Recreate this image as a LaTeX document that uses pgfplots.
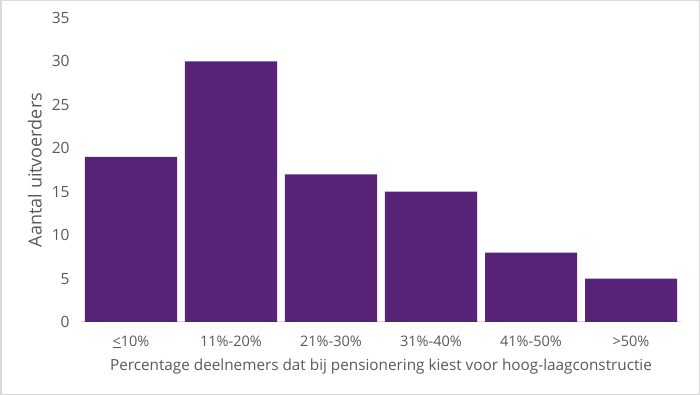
\documentclass[border=0pt]{standalone}
\usepackage{pgfplots}
\pgfplotsset{compat=1.18}
\usepackage{fontspec}
\setmainfont{Open Sans}
\definecolor{barc}{RGB}{86,35,120}
\definecolor{txt}{RGB}{89,89,89}
\definecolor{frame}{RGB}{217,217,217}
\begin{document}
\begin{tikzpicture}
\path[use as bounding box] (0,0) rectangle (700bp,395bp);
\draw[frame, line width=1.5bp] (0.75bp,0.75bp) rectangle (699.25bp,394.25bp);
\begin{axis}[
  at={(81bp,73bp)}, anchor=south west,
  width=600bp, height=304bp, scale only axis,
  xmin=-0.5, xmax=5.5, ymin=0, ymax=35,
  ytick={0,5,...,35},
  xtick={0,1,2,3,4,5},
  xticklabels={\underline{<}10\%,11\%-20\%,21\%-30\%,31\%-40\%,41\%-50\%,>50\%},
  axis lines*=left,
  y axis line style={draw=none},
  x axis line style={draw=frame, line width=1bp},
  major tick length=0pt,
  /pgf/number format/assume math mode=true,
  yticklabel style={font=\fontsize{15.5bp}{17bp}\selectfont, text=txt, xshift=-8bp},
  xticklabel style={font=\fontsize{14.5bp}{16bp}\selectfont, text=txt, yshift=-10bp},
  ylabel={Aantal uitvoerders},
  ylabel style={font=\fontsize{18bp}{20bp}\selectfont, text=txt, at={(axis description cs:-0.077,0.5)}, anchor=center, rotate=0},
  xlabel={Percentage deelnemers dat bij pensionering kiest voor hoog-laagconstructie},
  xlabel style={font=\fontsize{15.3bp}{17bp}\selectfont, text=txt, at={(axis description cs:0.5,-0.145)}, anchor=center},
  ybar, bar width=92bp,
  clip=false,
]
\addplot[fill=barc, draw=none] coordinates {(0,19) (1,30) (2,17) (3,15) (4,8) (5,5)};
\end{axis}
\end{tikzpicture}
\end{document}
